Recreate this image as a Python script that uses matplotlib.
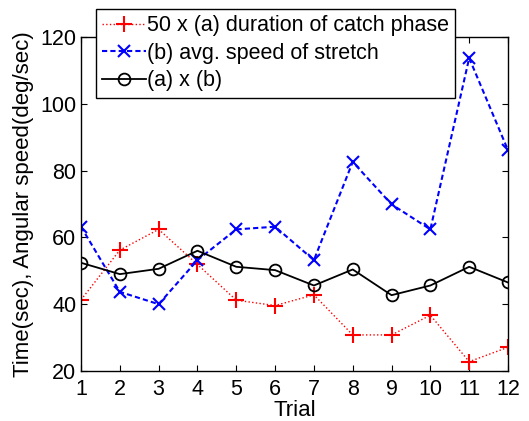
import matplotlib

matplotlib.use("Agg")
import matplotlib.pyplot as plt

trials = list(range(1, 13))
catch_duration = [41.3, 56.2, 62.4, 51.9, 41.2, 39.6, 42.8, 30.8, 30.8, 36.7, 22.8, 27.1]
stretch_speed = [63.2, 43.7, 40.0, 53.2, 62.4, 63.2, 53.2, 82.6, 69.9, 62.4, 113.7, 86.1]
product = [52.4, 49.0, 50.6, 56.0, 51.2, 50.2, 45.6, 50.4, 42.7, 45.6, 51.2, 46.5]
yticks = [20, 40, 60, 80, 100, 120]

plt.rcParams.update({
    "font.family": ["Liberation Sans", "DejaVu Sans"],
    "font.size": 15.5,
})

fig = plt.figure(figsize=(5.29, 4.21), dpi=100)
ax = fig.add_axes([81 / 529, 1 - 371 / 421, 427 / 529, 334 / 421])

ax.plot(trials, catch_duration, color="red", linestyle=":", linewidth=1.0,
        marker="+", markersize=11, markeredgewidth=1.5,
        label="50 x (a) duration of catch phase")
ax.plot(trials, stretch_speed, color="blue", linestyle=(0, (2.5, 1.5)), linewidth=1.5,
        marker="x", markersize=8, markeredgewidth=1.5,
        label="(b) avg. speed of stretch")
ax.plot(trials, product, color="black", linestyle="-", linewidth=1.3,
        marker="o", markersize=8.5, markerfacecolor="none", markeredgewidth=1.3,
        label="(a) x (b)")

ax.set_xlim(1, 12)
ax.set_ylim(20, 120)
ax.set_xticks(trials)
ax.set_yticks(yticks)
ax.tick_params(direction="in", top=True, right=True, length=4, width=0.8)
ax.tick_params(axis="x", pad=6)
for s in ax.spines.values():
    s.set_linewidth(1.0)
ax.set_xlabel("Trial", labelpad=0, fontsize=16)
ax.set_ylabel("Time(sec), Angular speed(deg/sec)", labelpad=4, fontsize=16)

leg = ax.legend(loc="upper left", bbox_to_anchor=(96 / 529, 1 - 9 / 421),
                bbox_transform=fig.transFigure, fancybox=False, framealpha=1,
                edgecolor="black", handlelength=2.0, borderpad=0.3,
                labelspacing=0.3, handletextpad=0.05, borderaxespad=0)
leg.get_frame().set_linewidth(1.0)

fig.savefig("out.png", dpi=100)
